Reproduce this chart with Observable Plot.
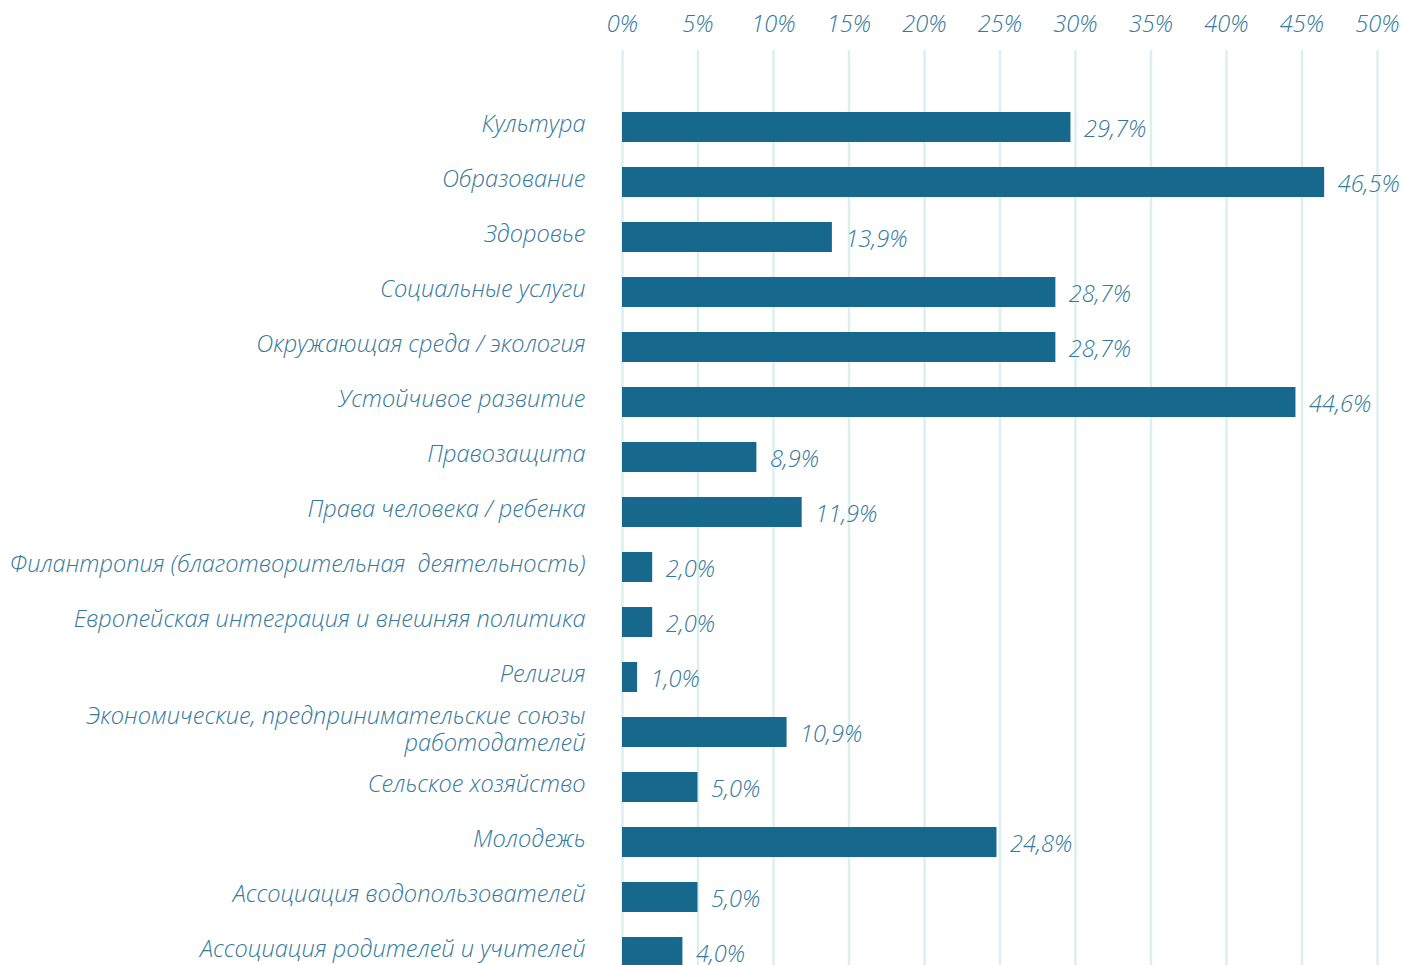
<!DOCTYPE html>
<html><head><meta charset="utf-8">
<script src="https://cdn.jsdelivr.net/npm/d3@7"></script>
<script src="https://cdn.jsdelivr.net/npm/@observablehq/plot@0.6"></script>
<style>
body{margin:0;background:#fff;overflow:hidden}
#chart svg{font-family:"Open Sans",sans-serif;font-style:italic;font-weight:300;}
</style>
</head><body><div id="chart"></div>
<script>
const categories = [
  "Культура",
  "Образование",
  "Здоровье",
  "Социальные услуги",
  "Окружающая среда / экология",
  "Устойчивое развитие",
  "Правозащита",
  "Права человека / ребенка",
  "Филантропия (благотворительная  деятельность)",
  "Европейская интеграция и внешняя политика",
  "Религия",
  "Экономические, предпринимательские союзы\nработодателей",
  "Сельское хозяйство",
  "Молодежь",
  "Ассоциация водопользователей",
  "Ассоциация родителей и учителей"
];
const values = [29.7, 46.5, 13.9, 28.7, 28.7, 44.6, 8.9, 11.9, 2.0, 2.0, 1.0, 10.9, 5.0, 24.8, 5.0, 4.0];
const xTicks = [0, 5, 10, 15, 20, 25, 30, 35, 40, 45, 50];

const data = categories.map((c, i) => ({category: c, value: values[i]}));
const textColor = "#35799b";

const chart = Plot.plot({
  width: 1403,
  height: 965,
  marginTop: 50,
  marginBottom: 0,
  marginLeft: 622,
  marginRight: 26,
  style: {fontSize: "23.6px", color: textColor, background: "#fff"},
  x: {domain: [0, 50], label: null},
  y: {domain: categories, range: [83.4, 995.5], paddingInner: 0.456, paddingOuter: 0.5, label: null},
  marks: [
    Plot.gridX(xTicks, {stroke: "#dcefef", strokeOpacity: 1, strokeWidth: 2.5}),
    Plot.barX(data, {x: "value", y: "category", fill: "#16698d"}),
    Plot.text(data, {
      x: "value", y: "category",
      text: d => d.value.toFixed(1).replace(".", ",") + "%",
      textAnchor: "start", dx: 13, dy: 2, fill: textColor, fontSize: 23.6
    }),
    Plot.axisX(xTicks, {anchor: "top", tickFormat: d => d + "%", tickSize: 0, tickPadding: 19, label: null, fontSize: 23.6}),
    Plot.axisY({tickSize: 0, tickPadding: 37, dy: -4, lineHeight: 1.15, label: null, fontSize: 23.6})
  ]
});
document.getElementById("chart").appendChild(chart);
</script>
</body></html>
